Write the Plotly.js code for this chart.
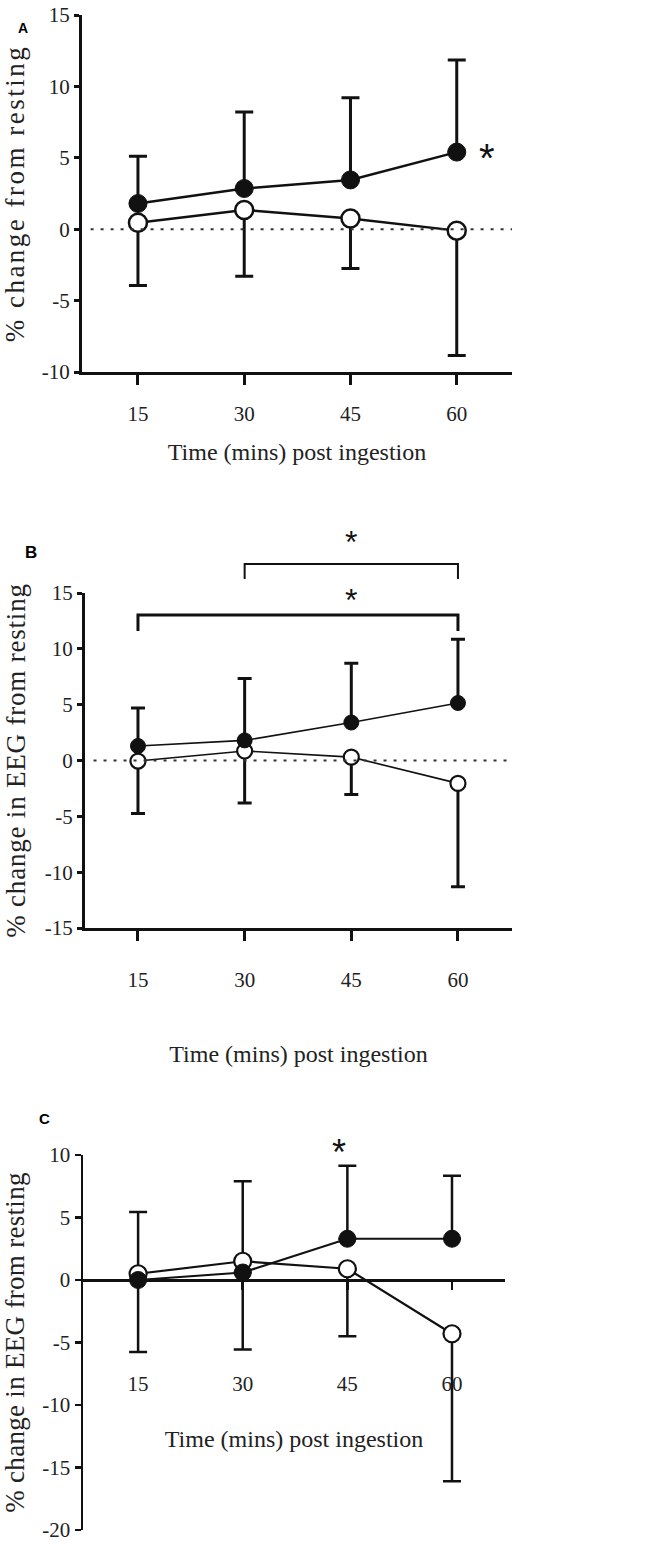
<!DOCTYPE html>
<html>
<head>
<meta charset="utf-8">
<script src="https://cdn.plot.ly/plotly-3.0.1.min.js"></script>
<style>
  html, body { margin: 0; padding: 0; background: #fff; }
  #chart { width: 655px; height: 1550px; }
  .ytitle { letter-spacing: 2.5px; }
  .y2title { letter-spacing: 0.8px; }
  .y3title { letter-spacing: 0.3px; }
</style>
</head>
<body>
<div id="chart"></div>
<script>
// ---------------- data ----------------
const timePoints = [15, 30, 45, 60];
const xTickText = ['15', '30', '45', '60'];
const xTitle = 'Time (mins) post ingestion';

// Panel A
const filledA = [1.8, 2.85, 3.45, 5.4];
const filledAErr = [3.3, 5.35, 5.75, 6.45];
const openA = [0.45, 1.35, 0.75, -0.1];
const openAErr = [4.4, 4.65, 3.5, 8.75];
const yTicksA = [-10, -5, 0, 5, 10, 15];
const yTickTextA = ['-10', '-5', '0', '5', '10', '15'];
const yTitleA = '% change from resting';

// Panel B
const filledB = [1.3, 1.8, 3.4, 5.15];
const filledBErr = [3.4, 5.55, 5.3, 5.7];
const openB = [-0.05, 0.85, 0.3, -2.05];
const openBErr = [4.7, 4.65, 3.35, 9.25];
const yTicksB = [-15, -10, -5, 0, 5, 10, 15];
const yTickTextB = ['-15', '-10', '-5', '0', '5', '10', '15'];
const yTitleB = '% change in EEG from resting';
const bracketsB = [[15, 60], [30, 60]];
const starXB = 45;

// Panel C
const filledC = [0, 0.6, 3.3, 3.3];
const filledCErr = [5.45, 7.3, 5.85, 5.05];
const openC = [0.5, 1.5, 0.9, -4.3];
const openCErr = [6.25, 7.05, 5.4, 11.8];
const yTicksC = [-20, -15, -10, -5, 0, 5, 10];
const yTickTextC = ['-20', '-15', '-10', '-5', '0', '5', '10'];
const yTitleC = '% change in EEG from resting';
const starIndexC = 2;

// ---------------- helpers ----------------
const W = 655, H = 1550;
const fx = p => p / W;          // pixel -> paper x
const fy = p => 1 - p / H;      // pixel -> paper y
const zeros = timePoints.map(() => 0);
const INK = '#111';
const SERIF = 'Liberation Serif, Times New Roman, serif';
const SANS = 'Liberation Sans, Arial, sans-serif';

function panelTraces(xa, ya, filled, filledErr, open, openErr, st) {
  return [
    // filled-series error bars (drawn first, below everything)
    { x: timePoints, y: filled, xaxis: xa, yaxis: ya, mode: 'markers',
      marker: { size: 1, color: 'rgba(0,0,0,0)' }, hoverinfo: 'skip',
      error_y: { type: 'data', symmetric: false, array: filledErr, arrayminus: zeros,
                 color: INK, thickness: st.eb, width: st.cap } },
    // open series with downward error bars
    { x: timePoints, y: open, xaxis: xa, yaxis: ya, mode: 'lines+markers',
      line: { color: INK, width: st.lw },
      marker: { symbol: 'circle', size: st.ms, color: '#fff', line: { color: INK, width: st.mlw } },
      error_y: { type: 'data', symmetric: false, array: zeros, arrayminus: openErr,
                 color: INK, thickness: st.eb, width: st.cap } },
    // filled series line + markers on top
    { x: timePoints, y: filled, xaxis: xa, yaxis: ya, mode: 'lines+markers',
      line: { color: INK, width: st.lw },
      marker: { symbol: 'circle', size: st.ms, color: INK, line: { color: INK, width: 1 } } }
  ];
}

const data = [].concat(
  panelTraces('x', 'y', filledA, filledAErr, openA, openAErr, { lw: 2.5, eb: 3, cap: 9, ms: 18, mlw: 2.5 }),
  panelTraces('x2', 'y2', filledB, filledBErr, openB, openBErr, { lw: 1.6, eb: 3, cap: 7, ms: 15, mlw: 2.2 }),
  panelTraces('x3', 'y3', filledC, filledCErr, openC, openCErr, { lw: 2.2, eb: 2.5, cap: 9, ms: 17, mlw: 2.2 })
);

function xTitleObj(standoff) {
  return { text: xTitle, font: { family: SERIF, size: 24, color: '#222' }, standoff: standoff };
}
function xAxis(domain, range, anchor, extra) {
  return Object.assign({
    domain: domain, range: range, anchor: anchor,
    tickmode: 'array', tickvals: timePoints, ticktext: xTickText,
    ticks: 'outside', ticklen: 10, tickwidth: 3, tickcolor: INK,
    showline: true, linewidth: 3, linecolor: INK,
    showgrid: false, zeroline: false, fixedrange: true,
    tickfont: { family: SERIF, size: 21, color: '#222' },
    title: xTitleObj(20)
  }, extra || {});
}
function yAxis(domain, range, anchor, vals, text, title, extra) {
  return Object.assign({
    domain: domain, range: range, anchor: anchor,
    tickmode: 'array', tickvals: vals, ticktext: text,
    ticks: 'outside', ticklen: 5, tickwidth: 3, tickcolor: INK,
    showline: true, linewidth: 3, linecolor: INK,
    showgrid: false, zeroline: false, fixedrange: true,
    tickfont: { family: SERIF, size: 21, color: '#222' },
    title: { text: title, font: { family: SERIF, size: 27, color: '#222' }, standoff: 12 }
  }, extra || {});
}

const domC = [fy(1530), fy(1155)];
const rangeC = [-20, 10];
// x axis of panel C sits on y = 0
const zeroPosC = domC[0] + (0 - rangeC[0]) / (rangeC[1] - rangeC[0]) * (domC[1] - domC[0]);

const layout = {
  width: W, height: H,
  margin: { l: 0, r: 0, t: 0, b: 0 },
  paper_bgcolor: '#fff', plot_bgcolor: '#fff',
  showlegend: false,
  xaxis: xAxis([fx(82), fx(512)], [7.1, 67.8], 'y', { ticklabelstandoff: 11, title: xTitleObj(18) }),
  yaxis: yAxis([fy(372), fy(15)], [-10, 15], 'x', yTicksA, yTickTextA, yTitleA),
  xaxis2: xAxis([fx(85), fx(512)], [7.55, 67.6], 'y2', { ticklabelstandoff: 21, title: xTitleObj(54) }),
  yaxis2: yAxis([fy(928), fy(593)], [-15, 15], 'x2', yTicksB, yTickTextB, yTitleB),
  xaxis3: xAxis([fx(83), fx(505)], [7.1, 67.6], 'free', {
    position: zeroPosC, linewidth: 2.5, ticklen: 8, tickwidth: 2.5,
    ticklabelstandoff: 76, title: xTitleObj(35) }),
  yaxis3: yAxis(domC, rangeC, 'x3', yTicksC, yTickTextC, yTitleC, { linewidth: 2.5, tickwidth: 2.5, ticklen: 6 }),
  shapes: [
    { type: 'line', xref: 'x domain', yref: 'y', x0: 0.02, x1: 1, y0: 0, y1: 0,
      line: { color: '#333', width: 2, dash: '3px,7px' } },
    { type: 'line', xref: 'x2 domain', yref: 'y2', x0: 0.02, x1: 1, y0: 0, y1: 0,
      line: { color: '#333', width: 2, dash: '3px,7px' } },
    // significance brackets in panel B
    { type: 'path', xref: 'x2', yref: 'paper',
      path: `M${bracketsB[0][0]},${fy(631)} L${bracketsB[0][0]},${fy(615)} L${bracketsB[0][1]},${fy(615)} L${bracketsB[0][1]},${fy(631)}`,
      line: { color: INK, width: 3 } },
    { type: 'path', xref: 'x2', yref: 'paper',
      path: `M${bracketsB[1][0]},${fy(579)} L${bracketsB[1][0]},${fy(564)} L${bracketsB[1][1]},${fy(564)} L${bracketsB[1][1]},${fy(579)}`,
      line: { color: INK, width: 2 } }
  ],
  annotations: [
    { text: '<b>A</b>', xref: 'paper', yref: 'paper', x: fx(16), y: fy(18), showarrow: false,
      font: { family: SANS, size: 14, color: '#000' } },
    { text: '<b>B</b>', xref: 'paper', yref: 'paper', x: fx(23), y: fy(552), showarrow: false,
      font: { family: SANS, size: 17, color: '#000' } },
    { text: '<b>C</b>', xref: 'paper', yref: 'paper', x: fx(37), y: fy(1129), showarrow: false,
      font: { family: SANS, size: 15, color: '#000' } },
    // significance stars
    { text: '*', xref: 'x', yref: 'y', x: timePoints[3], y: filledA[3], xshift: 30, yshift: -6, showarrow: false,
      font: { family: SANS, size: 40, color: INK } },
    { text: '*', xref: 'x2', yref: 'paper', x: starXB, y: fy(542), showarrow: false,
      font: { family: SANS, size: 32, color: INK } },
    { text: '*', xref: 'x2', yref: 'paper', x: starXB, y: fy(600), showarrow: false,
      font: { family: SANS, size: 32, color: INK } },
    { text: '*', xref: 'x3', yref: 'y3', x: timePoints[starIndexC],
      y: filledC[starIndexC] + filledCErr[starIndexC], xshift: -8, yshift: 13, showarrow: false,
      font: { family: SANS, size: 36, color: INK } }
  ]
};

Plotly.newPlot('chart', data, layout, { staticPlot: true, displayModeBar: false });
</script>
</body>
</html>
